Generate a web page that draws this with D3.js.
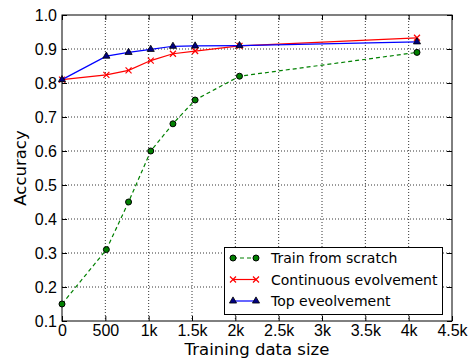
<!DOCTYPE html>
<html lang="en">
<head>
<meta charset="UTF-8">
<title>Accuracy vs training data size</title>
<script src="https://d3js.org/d3.v7.min.js"></script>
<style>
    body { margin: 0; background: #fff; }
    svg { display: block; font-family: "DejaVu Sans", sans-serif; }
    .grid line { stroke: #000; stroke-dasharray: 1,2; stroke-width: 0.8; }
</style>
</head>
<body>
<div id="chart"></div>
<script>
// training set sizes
const sizes = [0, 512, 768, 1024, 1280, 1536, 2048, 4096];
const scratch = [0.15, 0.31, 0.45, 0.60, 0.68, 0.75, 0.82, 0.89];
const continuous = [0.81, 0.824, 0.837, 0.866, 0.886, 0.894, 0.909, 0.933];
const topEvo = [0.81, 0.879, 0.89, 0.899, 0.908, 0.909, 0.91, 0.921];
const xTicks = [0, 500, 1000, 1500, 2000, 2500, 3000, 3500, 4000, 4500];
const yTicks = [0.1, 0.2, 0.3, 0.4, 0.5, 0.6, 0.7, 0.8, 0.9, 1.0];

const width = 474, height = 358;
const margin = { top: 15, right: 22, bottom: 37, left: 62 };

const svg = d3.select("#chart").append("svg")
    .attr("width", width)
    .attr("height", height);

const x = d3.scaleLinear().domain([0, 4500]).range([margin.left, width - margin.right]);
const y = d3.scaleLinear().domain([0.1, 1.0]).range([height - margin.bottom, margin.top]);

const fmtX = d => d === 0 ? "0" : d < 1000 ? String(d) : (d / 1000) + "k";

// grid
const grid = svg.append("g").attr("class", "grid");
grid.selectAll(".gx").data(xTicks.slice(1, -1)).enter().append("line")
    .attr("x1", d => x(d)).attr("x2", d => x(d))
    .attr("y1", y(1.0)).attr("y2", y(0.1));
grid.selectAll(".gy").data(yTicks.slice(1, -1)).enter().append("line")
    .attr("x1", x(0)).attr("x2", x(4500))
    .attr("y1", d => y(d)).attr("y2", d => y(d));

// axes, ticks pointing inward
svg.append("g")
    .attr("transform", `translate(0,${y(0.1)})`)
    .call(d3.axisBottom(x).tickValues(xTicks).tickFormat(fmtX).tickSizeInner(-5).tickSizeOuter(0).tickPadding(4));
svg.append("g")
    .attr("transform", `translate(${x(0)},0)`)
    .call(d3.axisLeft(y).tickValues(yTicks).tickFormat(d3.format(".1f")).tickSizeInner(-5).tickSizeOuter(0).tickPadding(5));
svg.append("g")
    .attr("transform", `translate(0,${y(1.0)})`)
    .call(d3.axisTop(x).tickValues(xTicks).tickFormat("").tickSizeInner(-5).tickSizeOuter(0));
svg.append("g")
    .attr("transform", `translate(${x(4500)},0)`)
    .call(d3.axisRight(y).tickValues(yTicks).tickFormat("").tickSizeInner(-5).tickSizeOuter(0));

svg.selectAll(".domain").remove();
svg.selectAll(".tick line").attr("stroke", "#000");
svg.selectAll(".tick text").attr("fill", "#000").style("font-size", "16px");

svg.append("rect")
    .attr("x", x(0)).attr("y", y(1.0))
    .attr("width", x(4500) - x(0)).attr("height", y(0.1) - y(1.0))
    .attr("fill", "none").attr("stroke", "#000").attr("stroke-width", 1);

// series
const series = [
    { name: "Train from scratch", values: scratch, color: "#008000", dash: "4,3", marker: "circle" },
    { name: "Continuous evolvement", values: continuous, color: "#ff0000", dash: null, marker: "x" },
    { name: "Top eveolvement", values: topEvo, color: "#0000ff", dash: null, marker: "triangle" }
];

const line = d3.line().x(d => x(d[0])).y(d => y(d[1]));

function drawMarker(g, type, color, px, py) {
    if (type === "circle") {
        g.append("circle").attr("cx", px).attr("cy", py).attr("r", 3)
            .attr("fill", color).attr("stroke", "#000").attr("stroke-width", 1);
    } else if (type === "x") {
        g.append("path").attr("d", `M${px - 3},${py - 3}L${px + 3},${py + 3}M${px - 3},${py + 3}L${px + 3},${py - 3}`)
            .attr("stroke", color).attr("stroke-width", 1.2).attr("fill", "none");
    } else {
        g.append("path").attr("d", d3.symbol(d3.symbolTriangle, 22)())
            .attr("transform", `translate(${px},${py})`)
            .attr("fill", "#000080").attr("stroke", "#000").attr("stroke-width", 0.8);
    }
}

series.forEach(s => {
    const pts = sizes.map((v, i) => [v, s.values[i]]);
    svg.append("path").datum(pts)
        .attr("d", line)
        .attr("fill", "none")
        .attr("stroke", s.color)
        .attr("stroke-width", 1.2)
        .attr("stroke-dasharray", s.dash);
    const g = svg.append("g");
    pts.forEach(p => drawMarker(g, s.marker, s.color, x(p[0]), y(p[1])));
});

// axis labels
svg.append("text")
    .attr("x", (x(0) + x(4500)) / 2).attr("y", 355)
    .attr("text-anchor", "middle").style("font-size", "16.5px")
    .text("Training data size");
svg.append("text")
    .attr("transform", `translate(26,${(y(0.1) + y(1.0)) / 2}) rotate(-90)`)
    .attr("text-anchor", "middle").style("font-size", "16.5px")
    .text("Accuracy");

// legend
const legend = svg.append("g");
legend.append("rect")
    .attr("x", 224.5).attr("y", 247.5).attr("width", 218).attr("height", 67)
    .attr("fill", "#fff").attr("stroke", "#000");
series.forEach((s, i) => {
    const ly = 258 + i * 21.5;
    legend.append("line")
        .attr("x1", 233).attr("x2", 256).attr("y1", ly).attr("y2", ly)
        .attr("stroke", s.color).attr("stroke-width", 1.2)
        .attr("stroke-dasharray", s.dash);
    drawMarker(legend, s.marker, s.color, 233, ly);
    drawMarker(legend, s.marker, s.color, 256, ly);
    legend.append("text")
        .attr("x", 271).attr("y", ly + 5)
        .style("font-size", "14px")
        .text(s.name);
});
</script>
</body>
</html>
